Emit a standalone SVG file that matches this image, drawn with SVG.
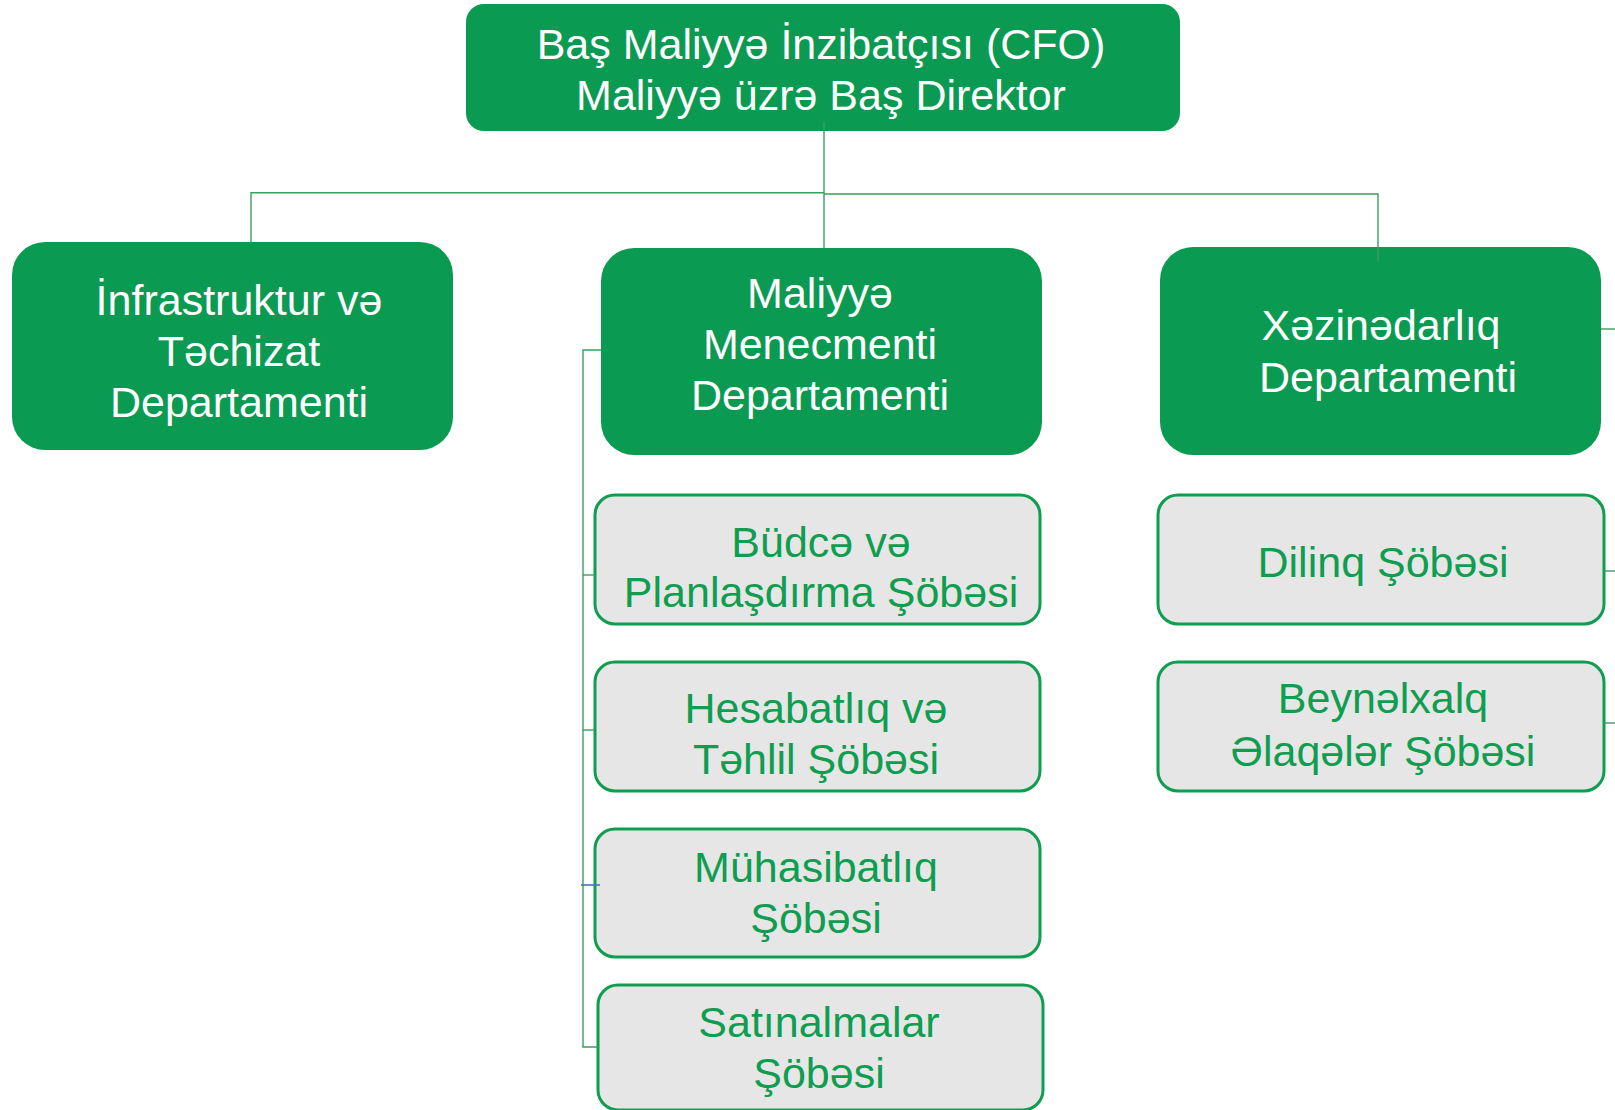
<svg xmlns="http://www.w3.org/2000/svg" width="1615" height="1110" viewBox="0 0 1615 1110">
<style>
.dept{fill:#0b9a52}
.sec{fill:#e6e6e6;stroke:#0f9d50;stroke-width:3}
.wt{fill:#ffffff;font-family:"Liberation Sans",Arial,sans-serif;font-size:43px;text-anchor:middle}
.gt{fill:#0f9d50;font-family:"Liberation Sans",Arial,sans-serif;font-size:43px;text-anchor:middle}
.con{fill:none;stroke:#3a9e60;stroke-width:1.4}
</style>
<rect width="1615" height="1110" fill="#ffffff"/>
<g id="cfo">
<rect class="dept" x="466" y="4" width="714" height="127" rx="18"/>
<text class="wt" x="821" y="59">Baş Maliyyə İnzibatçısı (CFO)</text>
<text class="wt" x="821" y="110">Maliyyə üzrə Baş Direktor</text>
</g>
<g id="infra">
<rect class="dept" x="12" y="242" width="441" height="208" rx="33"/>
<text class="wt" x="239" y="315">İnfrastruktur və</text>
<text class="wt" x="239" y="366">Təchizat</text>
<text class="wt" x="239" y="417">Departamenti</text>
</g>
<g id="maliyye">
<rect class="dept" x="601" y="248" width="441" height="207" rx="33"/>
<text class="wt" x="820" y="308">Maliyyə</text>
<text class="wt" x="820" y="359">Menecmenti</text>
<text class="wt" x="820" y="410">Departamenti</text>
</g>
<g id="xezine">
<rect class="dept" x="1160" y="247" width="441" height="208" rx="33"/>
<text class="wt" x="1381" y="340">Xəzinədarlıq</text>
<text class="wt" x="1388" y="392">Departamenti</text>
</g>
<g id="budce">
<rect class="sec" x="595" y="495" width="445" height="129" rx="20"/>
<text class="gt" x="821" y="557">Büdcə və</text>
<text class="gt" x="821" y="607">Planlaşdırma Şöbəsi</text>
</g>
<g id="hesabat">
<rect class="sec" x="595" y="662" width="445" height="129" rx="20"/>
<text class="gt" x="816" y="723">Hesabatlıq və</text>
<text class="gt" x="816" y="774">Təhlil Şöbəsi</text>
</g>
<g id="muhasib">
<rect class="sec" x="595" y="829" width="445" height="128" rx="20"/>
<text class="gt" x="816" y="882">Mühasibatlıq</text>
<text class="gt" x="816" y="933">Şöbəsi</text>
</g>
<g id="satinalma">
<rect class="sec" x="598" y="985" width="445" height="125" rx="20"/>
<text class="gt" x="819" y="1037">Satınalmalar</text>
<text class="gt" x="819" y="1088">Şöbəsi</text>
</g>
<g id="diling">
<rect class="sec" x="1158" y="495" width="446" height="129" rx="20"/>
<text class="gt" x="1383" y="577">Dilinq Şöbəsi</text>
</g>
<g id="beynelxalq">
<rect class="sec" x="1158" y="662" width="446" height="129" rx="20"/>
<text class="gt" x="1383" y="713">Beynəlxalq</text>
<text class="gt" x="1383" y="766">Əlaqələr Şöbəsi</text>
</g>
<g id="connectors">
<path class="con" d="M824 122 V248"/>
<path class="con" d="M824 192.7 H251 V242"/>
<path class="con" d="M824 194 H1378 V261"/>
<path class="con" d="M601 350 H583 V1047 H598"/>
<path class="con" d="M583 575 H595"/>
<path class="con" d="M583 730 H595"/>
<path fill="none" stroke="#4472c4" stroke-width="1.6" d="M581 885 H600"/>
<path class="con" d="M1601 329 H1615"/>
<path class="con" d="M1604 571 H1615"/>
<path class="con" d="M1604 723 H1615"/>
</g>
</svg>
